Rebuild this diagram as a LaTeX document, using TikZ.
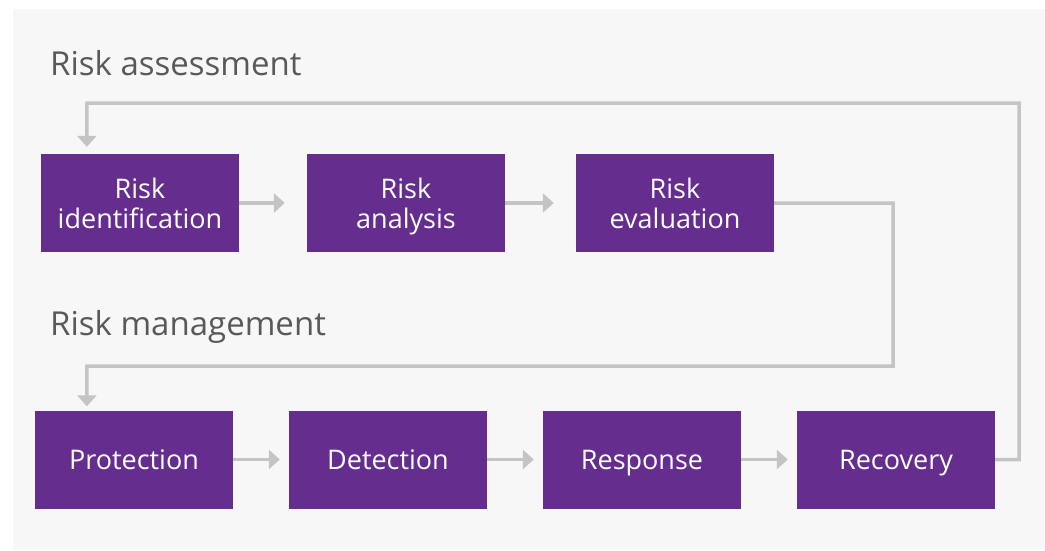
\documentclass[tikz,border=0pt]{standalone}
\usepackage{fontspec}
\setmainfont{Open Sans}
\usepackage{tikz}
\usetikzlibrary{arrows.meta,positioning,calc}
\definecolor{riskpurple}{HTML}{652D8E}
\definecolor{flowgray}{HTML}{C4C4C4}
\definecolor{panelgray}{HTML}{F7F7F7}
\definecolor{headgray}{HTML}{595959}

\begin{document}
\begin{tikzpicture}[x=1pt,y=-1pt,
    stage/.style={fill=riskpurple,text=white,minimum width=198pt,minimum height=98pt,
        inner sep=0pt,text depth=0pt,align=center,font=\fontsize{27}{29.5}\selectfont},
    heading/.style={anchor=base west,text=headgray,inner sep=0pt,font=\fontsize{33}{36}\selectfont},
    flow/.style={draw=flowgray,line width=3.5pt,-{Triangle[length=11pt,width=19pt]}}]
\useasboundingbox (0,0) rectangle (1045,550);
\fill[panelgray] (13,9) rectangle (1045,550);

% Headings
\node[heading] (assess) at (50,75) {Risk assessment};
\node[heading] (manage) at (50,335) {Risk management};

% Risk assessment stages
\node[stage] (ident) at (140,203) {Risk\\identification};
\node[stage] (analy) at (406,203) {Risk\\analysis};
\node[stage] (evalu) at (675,203) {Risk\\evaluation};

% Risk management stages
\node[stage] (prot) at (134,459.5) {Protection};
\node[stage] (detc) at (388,459.5) {Detection};
\node[stage] (resp) at (642,459.5) {Response};
\node[stage] (recv) at (896,459.5) {Recovery};

% Arrows within rows
\draw[flow,shorten >=22pt] (ident) -- (analy);
\draw[flow,shorten >=22pt] (analy) -- (evalu);
\draw[flow,shorten >=9pt] (prot) -- (detc);
\draw[flow,shorten >=9pt] (detc) -- (resp);
\draw[flow,shorten >=9pt] (resp) -- (recv);

% Arrows between rows
\draw[flow,shorten >=4pt] (evalu.east) -- (893,203) |- (87,366) -- ([xshift=52pt]prot.north west);
\draw[flow,shorten >=7pt] (recv.east) -- (1019,459.5) |- (87,103) -- ([xshift=46pt]ident.north west);

\end{tikzpicture}
\end{document}
